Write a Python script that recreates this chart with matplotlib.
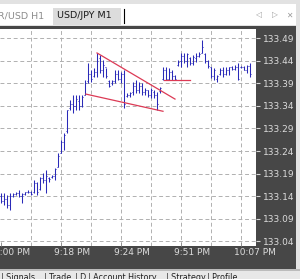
import matplotlib
matplotlib.use('Agg')
import matplotlib.pyplot as plt
from matplotlib.patches import Rectangle
from matplotlib.lines import Line2D

# USD/JPY M1 bars
highs = [133.147, 133.147, 133.143, 133.147, 133.147, 133.150, 133.154, 133.147, 133.150, 133.154,
         133.152, 133.176, 133.172, 133.183, 133.191, 133.198, 133.183, 133.187, 133.202, 133.236,
         133.264, 133.280, 133.331, 133.353, 133.364, 133.364, 133.364, 133.364, 133.397, 133.435,
         133.419, 133.424, 133.457, 133.452, 133.441, 133.424, 133.397, 133.397, 133.419, 133.419,
         133.415, 133.419, 133.368, 133.371, 133.393, 133.397, 133.393, 133.390, 133.379, 133.375,
         133.379, 133.375, 133.371, 133.382, 133.426, 133.426, 133.424, 133.419, 133.408, 133.441,
         133.457, 133.457, 133.457, 133.448, 133.452, 133.457, 133.459, 133.486, 133.457, 133.441,
         133.426, 133.424, 133.408, 133.424, 133.426, 133.426, 133.426, 133.428, 133.430, 133.435,
         133.428, 133.428, 133.430, 133.435]
lows = [133.125, 133.121, 133.114, 133.110, 133.138, 133.143, 133.138, 133.125, 133.143, 133.147,
        133.143, 133.147, 133.143, 133.154, 133.169, 133.147, 133.172, 133.180, 133.176, 133.205,
        133.236, 133.242, 133.280, 133.331, 133.324, 133.331, 133.331, 133.337, 133.364, 133.390,
        133.393, 133.404, 133.404, 133.413, 133.404, 133.402, 133.382, 133.386, 133.390, 133.397,
        133.390, 133.335, 133.360, 133.360, 133.364, 133.368, 133.368, 133.364, 133.364, 133.360,
        133.357, 133.357, 133.331, 133.368, 133.397, 133.397, 133.397, 133.397, 133.397, 133.428,
        133.426, 133.435, 133.426, 133.430, 133.430, 133.437, 133.448, 133.457, 133.435, 133.424,
        133.402, 133.397, 133.393, 133.408, 133.404, 133.408, 133.408, 133.419, 133.419, 133.397,
        133.424, 133.419, 133.413, 133.404]
opens = [133.140, 133.130, 133.135, 133.120, 133.140, 133.145, 133.148, 133.140, 133.145, 133.150,
         133.150, 133.150, 133.170, 133.155, 133.180, 133.175, 133.180, 133.182, 133.185, 133.205,
         133.236, 133.260, 133.285, 133.335, 133.345, 133.340, 133.350, 133.340, 133.364, 133.395,
         133.410, 133.405, 133.415, 133.445, 133.420, 133.425, 133.395, 133.390, 133.395, 133.410,
         133.400, 133.410, 133.362, 133.365, 133.370, 133.385, 133.375, 133.385, 133.370, 133.375,
         133.365, 133.370, 133.365, 133.372, 133.400, 133.420, 133.400, 133.415, 133.405, 133.430,
         133.440, 133.450, 133.440, 133.445, 133.435, 133.445, 133.450, 133.458, 133.455, 133.440,
         133.425, 133.405, 133.400, 133.410, 133.420, 133.410, 133.420, 133.425, 133.422, 133.425,
         133.425, 133.427, 133.420, 133.428]
closes = [133.130, 133.135, 133.120, 133.140, 133.145, 133.148, 133.140, 133.145, 133.150, 133.150,
          133.146, 133.170, 133.150, 133.180, 133.175, 133.185, 133.178, 133.185, 133.200, 133.230,
          133.260, 133.275, 133.330, 133.345, 133.340, 133.355, 133.340, 133.360, 133.390, 133.410,
          133.400, 133.415, 133.440, 133.420, 133.430, 133.405, 133.385, 133.395, 133.410, 133.400,
          133.410, 133.345, 133.365, 133.368, 133.385, 133.375, 133.385, 133.370, 133.375, 133.365,
          133.375, 133.365, 133.345, 133.380, 133.420, 133.400, 133.415, 133.405, 133.400, 133.438,
          133.450, 133.440, 133.455, 133.435, 133.448, 133.450, 133.455, 133.470, 133.440, 133.428,
          133.405, 133.420, 133.405, 133.420, 133.410, 133.420, 133.425, 133.422, 133.425, 133.400,
          133.427, 133.420, 133.428, 133.410]

price_ticks = [133.04, 133.09, 133.14, 133.19, 133.24, 133.29, 133.34, 133.39, 133.44, 133.49]
time_labels = ['9:00 PM', '9:18 PM', '9:24 PM', '9:51 PM', '10:07 PM']
time_bars = [0, 20, 40, 60, 80]

# drawn objects (bar index, price)
upper_x, upper_y = [32, 58], [133.457, 133.355]
lower_x, lower_y = [28.3, 54], [133.366, 133.328]
level_x, level_y = [54.3, 63], [133.397, 133.397]

W, H = 300, 279
fig = plt.figure(figsize=(3, 2.79), dpi=100, facecolor='#474747')

def fx(x):
    return x / W

def fy(y):
    return 1 - y / H

def rect(x0, y0, x1, y1, color):
    fig.add_artist(Rectangle((fx(x0), fy(y1)), (x1 - x0) / W, (y1 - y0) / H,
                             transform=fig.transFigure, facecolor=color, edgecolor='none'))

# window chrome
rect(0, 0, 300, 26, '#e2e2e2')
rect(0, 4, 296, 25, '#ffffff')
rect(53, 8, 121, 25, '#dcdcdc')
rect(296, 26, 300, 279, '#e4e4e4')
rect(0, 269, 300, 279, '#e8e8e8')
rect(0, 269, 300, 270.5, '#bcbcbc')

fig.text(fx(-2), fy(16), 'R/USD H1', color='#8c8c8c', fontsize=6.8, va='center')
fig.text(fx(57), fy(16), 'USD/JPY M1', color='#1a1a1a', fontsize=6.8, va='center')
fig.add_artist(Line2D([fx(124), fx(124)], [fy(9), fy(23)], color='black', lw=0.8))
fig.text(fx(259), fy(15), '\u25c1', color='#9a9a9a', fontsize=5.5, va='center', ha='center')
fig.text(fx(275), fy(15), '\u25b7', color='#9a9a9a', fontsize=5.5, va='center', ha='center')
fig.text(fx(289), fy(15), '\u2715', color='#9a9a9a', fontsize=5.5, va='center', ha='center')

for x, s in [(1, '| Signals'), (44, '| Trade'), (75, '| D'), (88, '| Account History'),
             (166, '| Strategy'), (207, '| Profile')]:
    fig.text(fx(x), fy(273), s, color='#202020', fontsize=5.8, va='top')

ax = fig.add_axes([0, fy(246), 256 / W, (246 - 29) / H])
ax.set_facecolor('white')
ax.set_xlim(-1 / 3, 85)
ax.set_ylim(133.030, 133.510)
for s in ax.spines.values():
    s.set_visible(False)

grid_style = dict(color='#b0b0b0', lw=0.7, linestyle=(0, (4, 2.8)), zorder=1)
for p in price_ticks:
    ax.axhline(p, **grid_style)
for g in range(10, 85, 10):
    ax.axvline(g, **grid_style)

bar_color = '#2a2ab8'
idx = list(range(len(highs)))
ax.vlines(idx, lows, highs, color=bar_color, lw=0.75, zorder=3)
ax.hlines(opens, [i - 0.33 for i in idx], idx, color=bar_color, lw=0.7, zorder=3)
ax.hlines(closes, idx, [i + 0.33 for i in idx], color=bar_color, lw=0.7, zorder=3)

line_color = '#dc3a55'
ax.plot(upper_x, upper_y, color=line_color, lw=0.9, zorder=4)
ax.plot(lower_x, lower_y, color=line_color, lw=0.9, zorder=4)
ax.plot(level_x, level_y, color=line_color, lw=0.9, zorder=4)

ax.yaxis.tick_right()
ax.set_yticks(price_ticks)
ax.set_yticklabels(['%.2f' % p for p in price_ticks])
ax.tick_params(axis='y', direction='out', length=3, width=0.8, color='#d8d8d8',
               labelcolor='#dcdcdc', labelsize=6.5, pad=2)
ax.set_xticks(time_bars)
ax.tick_params(axis='x', direction='in', length=3, width=0.7, color='#909090',
               labelbottom=False)

for b, lab in zip(time_bars, time_labels):
    ax.text(b - 7 / 3, -0.028, lab, transform=ax.get_xaxis_transform(), color='#dcdcdc',
            fontsize=6.5, ha='left', va='center', clip_on=False)

fig.savefig('out.png', dpi=100, facecolor=fig.get_facecolor())
